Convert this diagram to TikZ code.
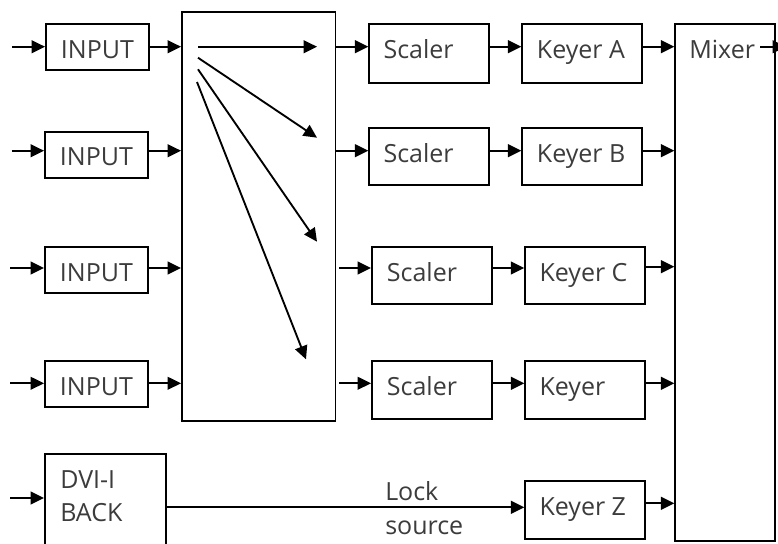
\documentclass[tikz,border=0pt]{standalone}
\usepackage{fontspec}
\setmainfont{Open Sans}
\usetikzlibrary{arrows.meta}
\definecolor{txtgray}{RGB}{60,60,60}
\newcommand{\bx}[5]{\node[box, anchor=north west, minimum width={(#4-#2)*0.75pt}, minimum height={(#5-#3)*0.75pt}] (#1) at (#2,#3) {};}
\begin{document}
\begin{tikzpicture}[x=0.75pt,y=-0.75pt,
  box/.style={draw=black, line width=1.4pt, inner sep=0pt, fill=white, rectangle},
  lbl/.style={anchor=base west, inner sep=0pt, text=txtgray, font=\fontsize{18.75}{25}\selectfont, align=left},
  arr/.style={line width=1.4pt, -{Triangle[length=10pt,width=9.5pt]}},
]
\useasboundingbox (0,0) rectangle (778,543);
\clip (0,0) rectangle (778,543);
\fill[white] (0,0) rectangle (778,543);

% boxes
\bx{rt}{181}{10.7}{334.5}{420}
\bx{i1}{45}{23}{148}{69}
\bx{i2}{44}{131}{147}{177}
\bx{i3}{44}{245.7}{147}{291.7}
\bx{i4}{44}{360}{147}{406}
\bx{dvi}{44}{452.7}{165}{560}
\bx{sa}{368.3}{23}{487.7}{81.7}
\bx{ka}{521.3}{23}{641}{81.7}
\bx{sb}{368.3}{126.7}{487.7}{184.3}
\bx{kb}{521.3}{126.7}{641}{184.3}
\bx{sc}{371}{245.7}{491}{303.3}
\bx{kc}{524.3}{245.7}{644}{303.3}
\bx{sd}{371}{360}{491}{417.7}
\bx{kd}{524.3}{360}{644}{417.7}
\bx{kz}{524.3}{480}{644}{538.3}
\bx{mx}{674.3}{23}{774}{540}

% labels
\node[lbl] (ti1) at (60.7,58.3) {INPUT};
\node[lbl] (ti2) at (59.7,165) {INPUT};
\node[lbl] (ti3) at (59.7,281) {INPUT};
\node[lbl] (ti4) at (59.7,395) {INPUT};
\node[lbl] (tdvi) at (60,521.7) {DVI-I\\BACK};
\node[lbl] (tsa) at (383.3,58.3) {Scaler};
\node[lbl] (tka) at (536.7,58.3) {Keyer A};
\node[lbl] (tsb) at (383.3,162.5) {Scaler};
\node[lbl] (tkb) at (536.7,162.5) {Keyer B};
\node[lbl] (tsc) at (386.7,281) {Scaler};
\node[lbl] (tkc) at (539.3,281) {Keyer C};
\node[lbl] (tsd) at (386.7,395) {Scaler};
\node[lbl] (tkd) at (539.3,395) {Keyer};
\node[lbl] (tkz) at (539.3,515) {Keyer Z};
\node[lbl] (tmx) at (689,58.3) {Mixer};
\node[lbl] (tlock) at (385,534) {Lock\\source};

% input stubs
\coordinate (in1) at (12,46.7);
\coordinate (in2) at (11.7,150.7);
\coordinate (in3) at (10,268);
\coordinate (in4) at (10,383.3);
\coordinate (in5) at (10,498);
\draw[arr] (in1) -- (i1.west |- in1);
\draw[arr] (in2) -- (i2.west |- in2);
\draw[arr] (in3) -- (i3.west |- in3);
\draw[arr] (in4) -- (i4.west |- in4);
\draw[arr] (in5) -- (dvi.west |- in5);

% inputs to router
\draw[arr] (i1.east |- in1) -- (rt.west |- in1);
\draw[arr] (i2.east |- in2) -- (rt.west |- in2);
\draw[arr] (i3.east |- in3) -- (rt.west |- in3);
\draw[arr] (i4.east |- in4) -- (rt.west |- in4);

% router internal
\coordinate (r0a) at (198,46.7);  \coordinate (r0b) at (317,46.7);
\coordinate (r1a) at (198,57.7);  \coordinate (r1b) at (317,137.7);
\coordinate (r2a) at (198,69.3);  \coordinate (r2b) at (317,241.7);
\coordinate (r3a) at (197,82);    \coordinate (r3b) at (306,359.3);
\draw[arr] (r0a) -- (r0b);
\draw[arr] (r1a) -- (r1b);
\draw[arr] (r2a) -- (r2b);
\draw[arr] (r3a) -- (r3b);

% router to scalers
\coordinate (ya) at (0,46.7);
\coordinate (yb) at (0,150.7);
\coordinate (yc) at (0,268);
\coordinate (yd) at (0,383.3);
\draw[arr] (rt.east |- ya) -- (sa.west |- ya);
\draw[arr] (rt.east |- yb) -- (sb.west |- yb);
\draw[arr] ([xshift=2pt]rt.east |- yc) -- (sc.west |- yc);
\draw[arr] ([xshift=2pt]rt.east |- yd) -- (sd.west |- yd);

% scalers to keyers
\draw[arr] (sa.east |- ya) -- (ka.west |- ya);
\draw[arr] (sb.east |- yb) -- (kb.west |- yb);
\draw[arr] (sc.east |- yc) -- (kc.west |- yc);
\draw[arr] (sd.east |- yd) -- (kd.west |- yd);

% keyers to mixer
\coordinate (yc2) at (0,266.7);
\coordinate (yz) at (0,503.3);
\draw[arr] (ka.east |- ya) -- (mx.west |- ya);
\draw[arr] (kb.east |- yb) -- (mx.west |- yb);
\draw[arr] (kc.east |- yc2) -- (mx.west |- yc2);
\draw[arr] (kd.east |- yd) -- (mx.west |- yd);
\draw[arr] (kz.east |- yz) -- (mx.west |- yz);

% lock source
\coordinate (yl) at (0,507.3);
\draw[arr] (dvi.east |- yl) -- (kz.west |- yl);

% mixer output
\coordinate (mo1) at (760,46.7);
\coordinate (mo2) at (786,46.7);
\draw[arr] (mo1) -- (mo2);
\end{tikzpicture}
\end{document}
